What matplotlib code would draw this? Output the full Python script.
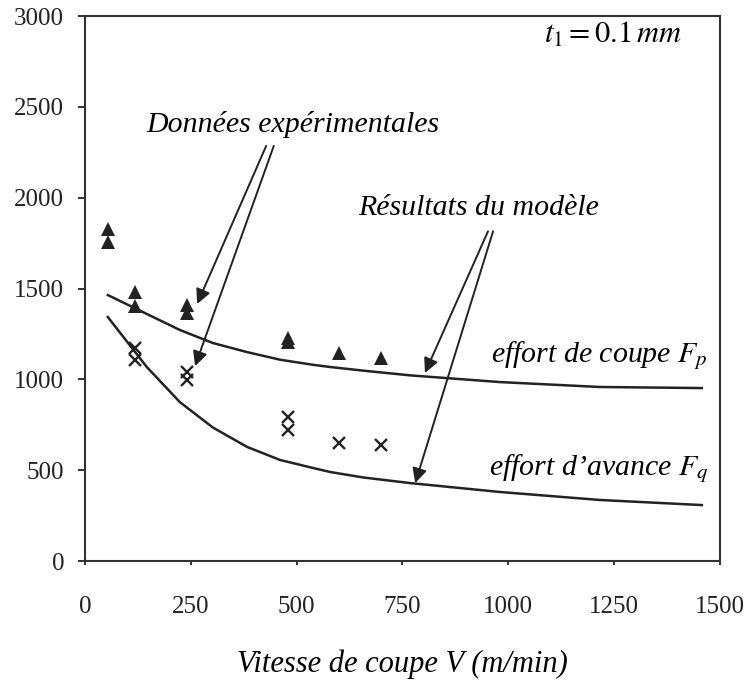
import numpy as np
from matplotlib import pyplot as plt

plt.rcParams['font.family'] = ['Liberation Serif', 'DejaVu Serif']
plt.rcParams['mathtext.fontset'] = 'stix'

# experimental points
v_exp = [55, 55, 118, 118, 240, 240, 480, 480, 600, 700]
fp_exp = [1825, 1755, 1481, 1404, 1409, 1365, 1228, 1208, 1145, 1117]
v_exp_q = [118, 118, 240, 240, 480, 480, 600, 700]
fq_exp = [1172, 1106, 1040, 996, 793, 721, 650, 639]

# model curves
v_mod = [54, 146, 224, 302, 383, 461, 539, 579, 657, 768, 980, 1216, 1457]
fp_mod = [1464, 1360, 1272, 1200, 1150, 1108, 1080, 1068, 1048, 1022, 985, 958, 952]
fq_mod = [1343, 1068, 875, 735, 628, 556, 512, 490, 460, 429, 380, 336, 308]

xticks = [0, 250, 500, 750, 1000, 1250, 1500]
yticks = [0, 500, 1000, 1500, 2000, 2500, 3000]

fig = plt.figure(figsize=(7.48, 6.82), dpi=100)
ax = fig.add_axes([0.1136, 0.1774, 0.849, 0.7991])

ax.plot(v_mod, fp_mod, '-', color='#222222', lw=1.8)
ax.plot(v_mod, fq_mod, '-', color='#222222', lw=1.8)
ax.plot(v_exp, fp_exp, '^', color='#222222', ms=9.5, mew=0)
ax.plot(v_exp_q, fq_exp, 'x', color='#222222', ms=9, mew=1.7)

ax.set_xlim(0, 1500)
ax.set_ylim(0, 3000)
ax.set_xticks(xticks)
ax.set_yticks(yticks)
ax.tick_params(axis='both', labelsize=18, direction='out', width=1.3, colors='#222222')
ax.tick_params(axis='x', length=3, pad=22)
ax.tick_params(axis='y', length=5, pad=10)
for s in ax.spines.values():
    s.set_linewidth(1.5)
    s.set_color('#333333')

ax.set_xlabel('Vitesse de coupe V (m/min)', fontsize=22, style='italic', labelpad=23)

# annotations
ap = dict(arrowstyle='-|>', color='#222222', lw=1.4, mutation_scale=22, shrinkA=0, shrinkB=0)
ax.annotate('', xy=(265, 1415), xytext=(428, 2285), arrowprops=ap)
ax.annotate('', xy=(260, 1073), xytext=(446, 2285), arrowprops=ap)
ax.text(146, 2361, 'Données expérimentales', fontsize=21.5, style='italic', ha='left', va='baseline')

ax.annotate('', xy=(803, 1035), xytext=(952, 1815), arrowprops=ap)
ax.annotate('', xy=(780, 429), xytext=(964, 1815), arrowprops=ap)
ax.text(645, 1905, 'Résultats du modèle', fontsize=21.5, style='italic', ha='left', va='baseline')

ax.text(1472, 1095, r'effort de coupe $\mathit{F_p}$', fontsize=21.5, style='italic', ha='right', va='baseline')
ax.text(1472, 473, r"effort d’avance $\mathit{F_q}$", fontsize=21.5, style='italic', ha='right', va='baseline')
ax.text(1410, 2851, r'$t_1 = 0.1\,mm$', fontsize=22, ha='right', va='baseline')

fig.savefig('out.png', dpi=100)
